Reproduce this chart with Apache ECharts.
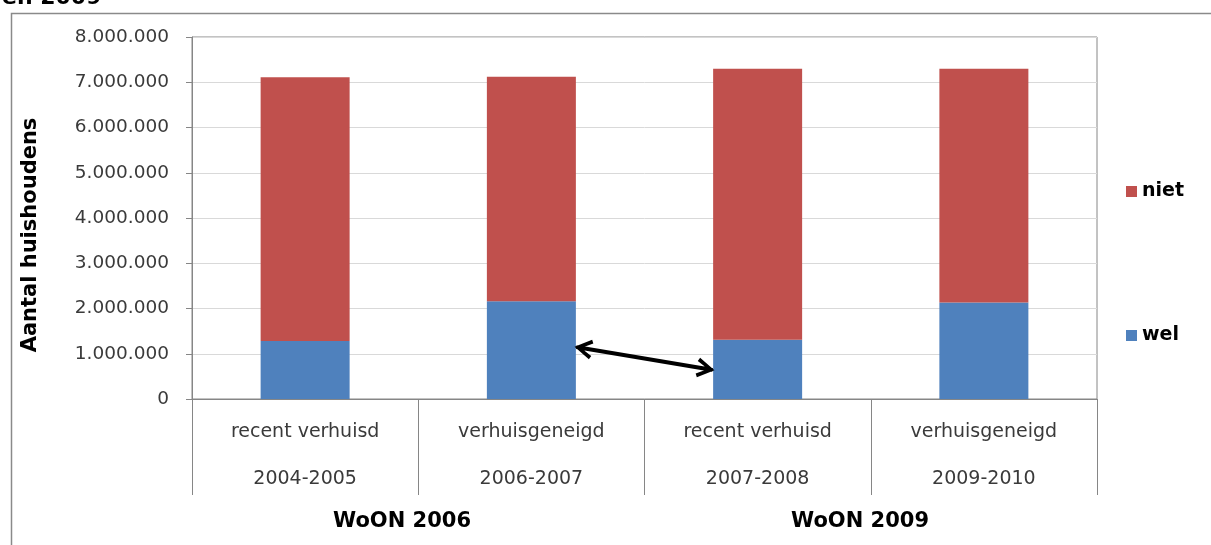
<!DOCTYPE html>
<html>
<head>
<meta charset="utf-8">
<script src="https://cdn.jsdelivr.net/npm/echarts@6/dist/echarts.min.js"></script>
<style>
  html, body { margin: 0; padding: 0; background: #fff; }
  #main { width: 1211px; height: 545px; }
</style>
</head>
<body>
<div id="main"></div>
<script>
// categories: type of household + survey period
let categories = ['recent verhuisd\n2004-2005', 'verhuisgeneigd\n2006-2007', 'recent verhuisd\n2007-2008', 'verhuisgeneigd\n2009-2010'];
let groups     = ['WoON 2006', 'WoON 2009'];
let welValues  = [1280000, 2160000, 1310000, 2130000];
let nietValues = [5830000, 4960000, 5990000, 5170000];
// arrow between bar 2 and bar 3: [band position, value] (head centres)
let arrowFrom  = [1.73, 1120000];
let arrowTo    = [2.27, 670000];

let font = 'DejaVu Sans';
// open chevron head with a bit of shaft, pointing up
let chevron = 'path://M0,9 L5,0 L10,9 L8.2,10 L5,3.6 L1.8,10 Z M4.1,1 L5.9,1 L5.9,6 L4.1,6 Z';

let chart = echarts.init(document.getElementById('main'));

let formatNl = function(v) {
    return String(v).replace(/\B(?=(\d{3})+(?!\d))/g, '.');
};

let option = {
    animation: false,
    textStyle: { fontFamily: font },
    grid: {
        left: 192,
        right: 114,
        top: 37,
        bottom: 146,
        show: true,
        borderColor: '#868686',
        borderWidth: 1
    },
    legend: {
        orient: 'vertical',
        left: 1121,
        top: 177,
        itemWidth: 11,
        itemHeight: 11,
        itemGap: 125,
        icon: 'rect',
        data: ['niet', 'wel'],
        textStyle: { fontFamily: font, fontWeight: 'bold', fontSize: 19, color: '#000' }
    },
    xAxis: [{
        type: 'category',
        data: categories,
        axisLine: { lineStyle: { color: '#868686' } },
        axisTick: { show: true, interval: 0, length: 96, lineStyle: { color: '#868686' } },
        axisLabel: {
            interval: 0,
            margin: 10,
            fontFamily: font,
            fontSize: 19,
            lineHeight: 47,
            color: '#3a3a3a'
        }
    }, {
        type: 'value',
        min: 0,
        max: 4,
        show: false
    }],
    yAxis: {
        type: 'value',
        min: 0,
        max: 8000000,
        interval: 1000000,
        axisLine: { show: true, lineStyle: { color: '#868686' } },
        axisTick: { show: true, length: 6, lineStyle: { color: '#868686' } },
        splitLine: { lineStyle: { color: '#d9d9d9' } },
        axisLabel: {
            margin: 23,
            fontFamily: font,
            fontSize: 18.5,
            color: '#3a3a3a',
            formatter: formatNl
        }
    },
    series: [{
        name: 'wel',
        type: 'bar',
        stack: 'total',
        barWidth: 89,
        itemStyle: { color: '#4f81bd' },
        data: welValues
    }, {
        name: 'niet',
        type: 'bar',
        stack: 'total',
        barWidth: 89,
        itemStyle: { color: '#c0504d' },
        data: nietValues
    }, {
        name: 'arrow',
        type: 'line',
        xAxisIndex: 1,
        data: [],
        markLine: {
            silent: true,
            symbol: [chevron, chevron],
            symbolSize: [20, 18],
            itemStyle: { color: '#000' },
            label: { show: false },
            lineStyle: { color: '#000', width: 4, type: 'solid' },
            data: [[{ coord: arrowFrom }, { coord: arrowTo }]]
        }
    }],
    graphic: [{
        type: 'rect',
        left: 9,
        top: 11,
        shape: { width: 1300, height: 700 },
        style: { fill: 'none', stroke: '#8a8a8a', lineWidth: 1.5 }
    }, {
        type: 'text',
        x: 2,
        y: 9,
        style: { text: 'en 2009', font: 'bold 22px "DejaVu Sans"', fill: '#000', verticalAlign: 'bottom' }
    }, {
        type: 'text',
        x: 31,
        y: 235,
        rotation: Math.PI / 2,
        style: { text: 'Aantal huishoudens', font: 'bold 21px "DejaVu Sans"', fill: '#000', align: 'center', verticalAlign: 'middle' }
    }, {
        type: 'text',
        x: 402,
        y: 522,
        style: { text: groups[0], font: 'bold 21px "DejaVu Sans"', fill: '#000', align: 'center', verticalAlign: 'middle' }
    }, {
        type: 'text',
        x: 860,
        y: 522,
        style: { text: groups[1], font: 'bold 21px "DejaVu Sans"', fill: '#000', align: 'center', verticalAlign: 'middle' }
    }]
};

chart.setOption(option);
</script>
</body>
</html>
